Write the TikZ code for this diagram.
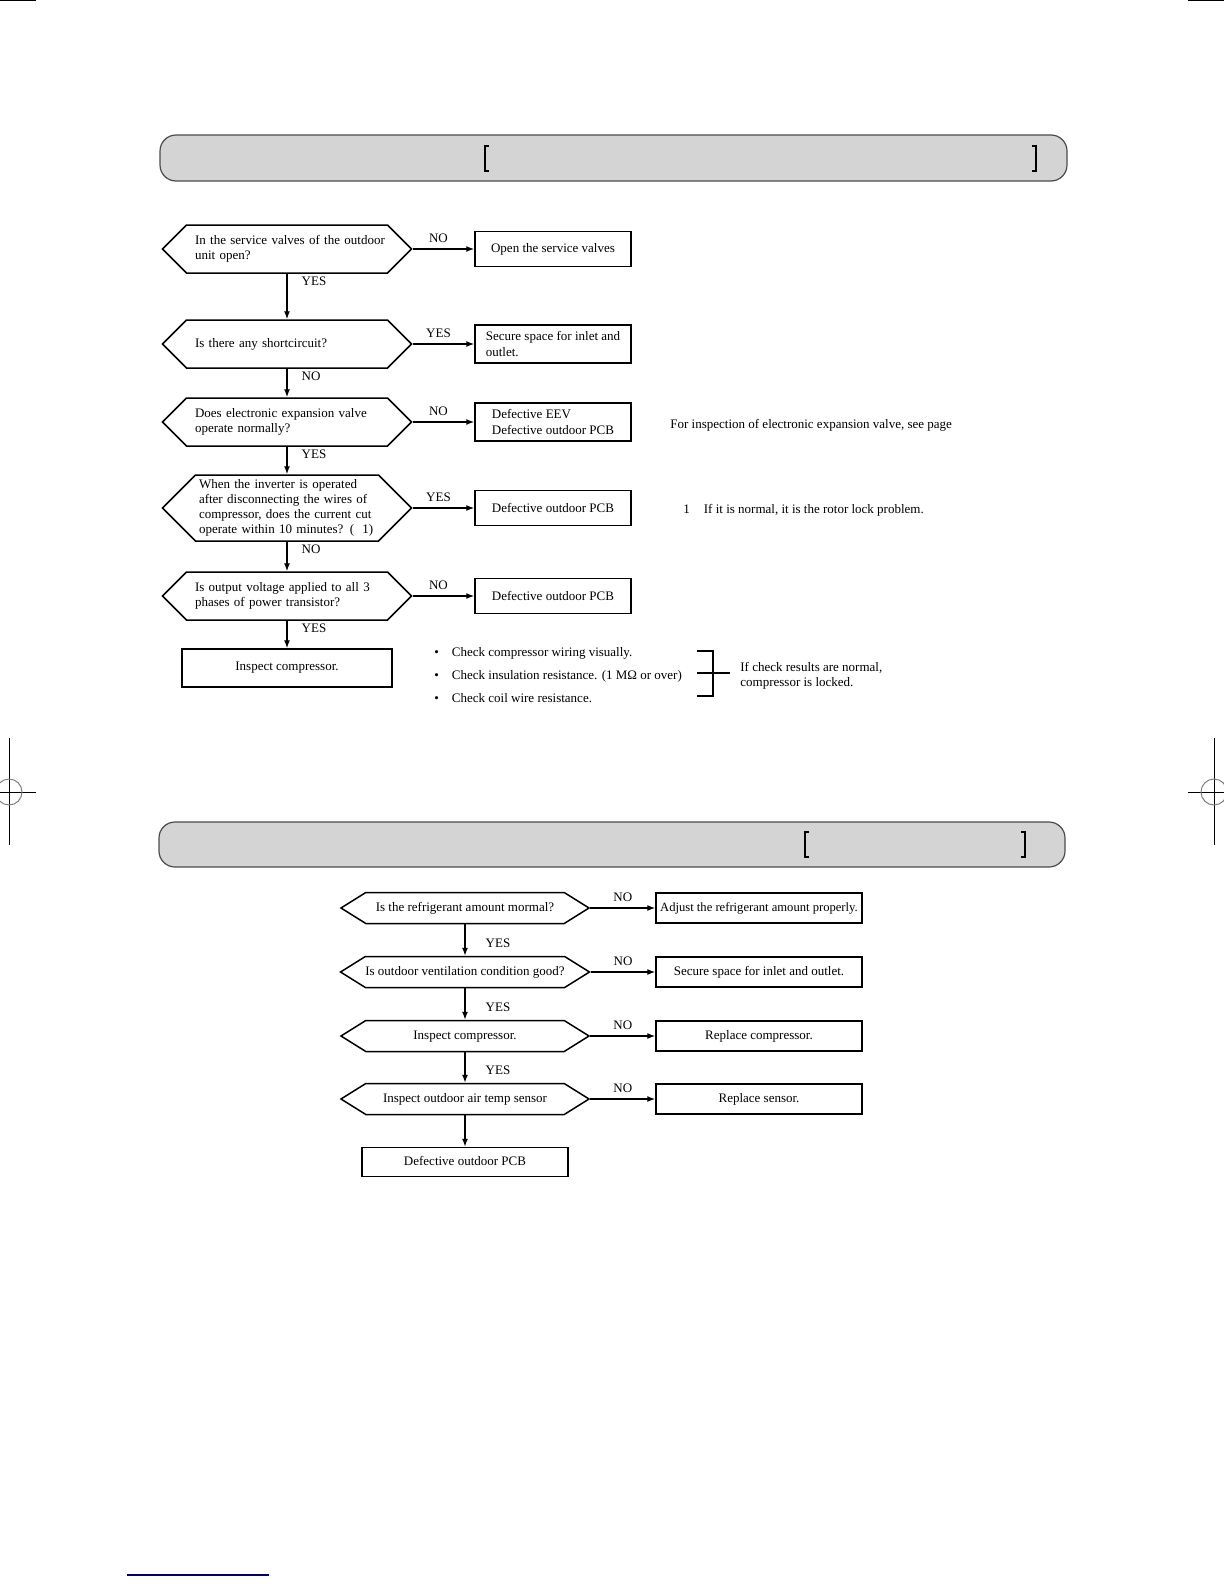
\documentclass[tikz,border=0pt]{standalone}
\usepackage{fontspec}
\setmainfont{Liberation Serif}
\usetikzlibrary{shapes.symbols,arrows.meta}

\begin{document}
\begin{tikzpicture}[x=0.5pt, y=-0.5pt,
            txt/.style={font=\fontsize{6.5}{7.6}\selectfont},
            decision/.style={txt, draw, line width=0.75pt, signal, signal to=west and east,
                    signal pointer angle=90, align=left, inner xsep=0pt, inner ysep=1pt,
                    minimum width=124.5pt, minimum height=24pt, text width=92pt},
            decisionb/.style={txt, draw, line width=0.75pt, signal, signal to=west and east,
                    signal pointer angle=64, align=center, inner xsep=0pt, inner ysep=1pt,
                    minimum width=124pt, minimum height=15.5pt, text height=4.4pt, text depth=1.2pt},
            result/.style={txt, draw, line width=0.75pt, rectangle, minimum width=78pt,
                    minimum height=17.5pt, align=left},
            resultb/.style={txt, draw, line width=0.75pt, rectangle, minimum width=103pt,
                    minimum height=15pt, align=center, inner xsep=1pt, text height=4.4pt, text depth=1.2pt},
            flow/.style={->, >={Latex[length=4pt,width=3pt]}, line width=0.7pt},
            lab/.style={txt, inner sep=1pt},
            vlab/.style={lab, pos=0, anchor=north west, xshift=6pt},
            vlabb/.style={lab, pos=0.6, right=9pt},
            bar/.style={draw=black!70, fill=black!17, line width=0.6pt, rounded corners=8pt},
            brk/.style={line width=1.2pt},
            regmark/.style={line width=0.5pt}
        ]
        \useasboundingbox (0,0) rectangle (1224,1584);
        \def\qx{287}
        \def\rx{553}
        \def\sx{465}
        \def\tx{759}

        % page marks
        \draw[regmark] (0,1) -- (36,1);
        \draw[regmark] (1188,1) -- (1224,1);
        \draw[regmark] (9,738) -- (9,845);
        \draw[regmark] (0,792) -- (36,792);
        \draw[regmark, gray] (9,792) circle[radius=6.5pt];
        \draw[regmark] (1214,738) -- (1214,845);
        \draw[regmark] (1188,792) -- (1224,792);
        \draw[regmark, gray] (1214,792) circle[radius=6.5pt];
        \draw[line width=0.8pt, blue!45!black] (127,1575) -- (269,1575);

        % title bars
        \draw[bar] (160,135) rectangle (1067,181);
        \draw[brk] (489,146) -- (485,146) -- (485,171) -- (489,171);
        \draw[brk] (1032,146) -- (1036,146) -- (1036,171) -- (1032,171);
        \draw[bar] (159,822) rectangle (1065,867);
        \draw[brk] (809,832) -- (805,832) -- (805,857) -- (809,857);
        \draw[brk] (1021,832) -- (1025,832) -- (1025,857) -- (1021,857);

        % first chart
        \node[decision] (q1) at (\qx,249) {\mbox{In the service valves of the outdoor}\\unit open?};
        \node[decision] (q2) at (\qx,344) {Is there any shortcircuit?};
        \node[decision] (q3) at (\qx,422) {Does electronic expansion valve\\operate normally?};
        \node[decision, minimum height=33pt, text width=88pt] (q4) at (\qx,508) {When the inverter is operated\\after disconnecting the wires of\\compressor, does the current cut\\operate within 10 minutes? (\hspace{4pt}1)};
        \node[decision] (q5) at (\qx,596) {Is output voltage applied to all 3\\phases of power transistor?};
        \node[result, align=center, minimum width=105pt, minimum height=19pt] (insp) at (\qx,668) {Inspect compressor.};

        \node[result] (r1) at (\rx,249) {Open the service valves};
        \node[result] (r2) at (\rx,344) {Secure space for inlet and\\outlet.};
        \node[result] (r3) at (\rx,422) {Defective EEV\\Defective outdoor PCB};
        \node[result, align=center] (r4) at (\rx,508) {Defective outdoor PCB};
        \node[result, align=center] (r5) at (\rx,596) {Defective outdoor PCB};

        \draw[flow] (q1.east) -- node[lab, above=2pt, pos=0.42] {NO} (r1.west);
        \draw[flow] (q2.east) -- node[lab, above=2pt, pos=0.42] {YES} (r2.west);
        \draw[flow] (q3.east) -- node[lab, above=2pt, pos=0.42] {NO} (r3.west);
        \draw[flow] (q4.east) -- node[lab, above=2pt, pos=0.42] {YES} (r4.west);
        \draw[flow] (q5.east) -- node[lab, above=2pt, pos=0.42] {NO} (r5.west);
        \draw[flow] (q1.south) -- node[vlab] {YES} (q2.north);
        \draw[flow] (q2.south) -- node[vlab] {NO} (q3.north);
        \draw[flow] (q3.south) -- node[vlab] {YES} (q4.north);
        \draw[flow] (q4.south) -- node[vlab] {NO} (q5.north);
        \draw[flow] (q5.south) -- node[vlab] {YES} (insp.north);

        \node[lab, anchor=west, inner sep=0pt] (eev) at (670,425) {For inspection of electronic expansion valve, see page};
        \node[lab, anchor=west, inner sep=0pt] (rotor) at (683,510) {1\hspace{7pt}If it is normal, it is the rotor lock problem.};

        \node[lab, anchor=west, inner sep=0pt] (chk1) at (434,653) {\textbullet\hspace{6.5pt}Check compressor wiring visually.};
        \node[lab, anchor=west, inner sep=0pt] (chk2) at (434,676) {\textbullet\hspace{6.5pt}Check insulation resistance. (1 MΩ or over)};
        \node[lab, anchor=west, inner sep=0pt] (chk3) at (434,698) {\textbullet\hspace{6.5pt}Check coil wire resistance.};
        \node[lab, anchor=west, align=left, inner sep=0pt] (locked) at (740,676) {If check results are normal,\\compressor is locked.};
        \draw[line width=0.7pt] (697,651) -- (713,651) -- (713,696) -- (697,696);
        \draw[line width=0.7pt] (697,673) -- ([xshift=-5pt]locked.west |- 0,673);

        % second chart
        \node[decisionb] (p1) at (\sx,908) {Is the refrigerant amount mormal?};
        \node[decisionb] (p2) at (\sx,972) {Is outdoor ventilation condition good?};
        \node[decisionb] (p3) at (\sx,1036) {Inspect compressor.};
        \node[decisionb] (p4) at (\sx,1099) {Inspect outdoor air temp sensor};
        \node[resultb, minimum height=14.5pt] (pcb) at (\sx,1162) {Defective outdoor PCB};

        \node[resultb, inner xsep=2pt, font=\fontsize{6.3}{7.4}\selectfont] (s1) at (\tx,908) {Adjust the refrigerant amount properly.};
        \node[resultb] (s2) at (\tx,972) {Secure space for inlet and outlet.};
        \node[resultb] (s3) at (\tx,1036) {Replace compressor.};
        \node[resultb] (s4) at (\tx,1099) {Replace sensor.};

        \draw[flow] (p1.east) -- node[lab, above=2pt] {NO} (s1.west);
        \draw[flow] (p2.east) -- node[lab, above=2pt] {NO} (s2.west);
        \draw[flow] (p3.east) -- node[lab, above=2pt] {NO} (s3.west);
        \draw[flow] (p4.east) -- node[lab, above=2pt] {NO} (s4.west);
        \draw[flow] (p1.south) -- node[vlabb] {YES} (p2.north);
        \draw[flow] (p2.south) -- node[vlabb] {YES} (p3.north);
        \draw[flow] (p3.south) -- node[vlabb] {YES} (p4.north);
        \draw[flow] (p4.south) -- (pcb.north);
    \end{tikzpicture}
\end{document}
